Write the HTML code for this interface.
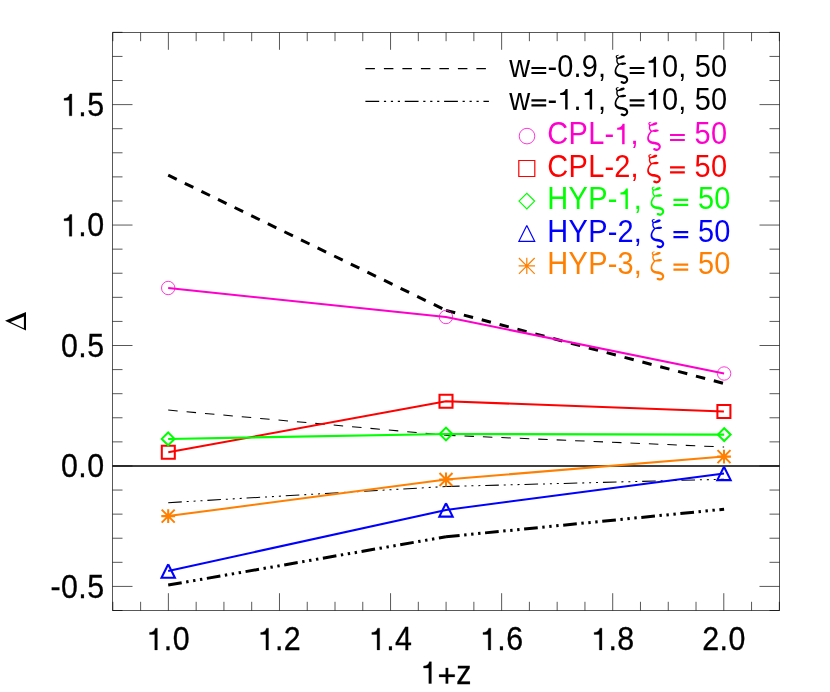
<!DOCTYPE html>
<html><head><meta charset="utf-8"><title>plot</title>
<style>
html,body{margin:0;padding:0;background:#fff;}
body{width:830px;height:692px;overflow:hidden;}
svg{display:block;will-change:transform;}
text{font-family:"Liberation Sans",sans-serif;}
</style></head><body>
<svg width="830" height="692" viewBox="0 0 830 692">
<rect width="830" height="692" fill="#fff"/>
<defs><path id="xi" d="M3.88 -22.45 3.79 -22.44 3.66 -22.43 3.50 -22.42 3.32 -22.40 3.12 -22.37 2.92 -22.34 2.72 -22.29 2.54 -22.22 2.38 -22.15 2.22 -22.08 2.05 -21.99 1.89 -21.89 1.73 -21.76 1.57 -21.62 1.43 -21.44 1.32 -21.22 1.26 -21.00 1.23 -20.78 1.22 -20.56 1.25 -20.34 1.29 -20.12 1.36 -19.90 1.44 -19.69 1.56 -19.47 1.72 -19.26 1.91 -19.06 2.10 -18.88 2.30 -18.71 2.50 -18.56 2.66 -18.44 2.80 -18.34 2.89 -18.26 3.20 -18.13 3.54 -18.17 3.81 -18.37 3.95 -18.68 3.91 -19.02 3.71 -19.30 3.59 -19.38 3.45 -19.49 3.28 -19.61 3.10 -19.74 2.94 -19.87 2.79 -19.99 2.68 -20.10 2.61 -20.17 2.56 -20.25 2.52 -20.35 2.48 -20.45 2.45 -20.55 2.43 -20.65 2.42 -20.74 2.41 -20.81 2.41 -20.84 2.41 -20.87 2.43 -20.92 2.48 -20.98 2.54 -21.06 2.63 -21.14 2.74 -21.23 2.85 -21.31 2.95 -21.38 3.05 -21.45 3.18 -21.51 3.33 -21.57 3.49 -21.63 3.65 -21.69 3.80 -21.74 3.93 -21.78 4.03 -21.81 4.18 -21.89 4.27 -22.04 4.28 -22.21 4.20 -22.36 4.05 -22.45ZM3.34 -18.42 3.50 -18.43 3.72 -18.45 3.98 -18.48 4.27 -18.51 4.59 -18.54 4.91 -18.58 5.23 -18.62 5.54 -18.67 5.85 -18.73 6.16 -18.79 6.48 -18.85 6.79 -18.92 7.09 -18.99 7.38 -19.05 7.64 -19.12 7.86 -19.19 8.08 -19.26 8.30 -19.35 8.51 -19.44 8.72 -19.54 8.91 -19.64 9.09 -19.73 9.25 -19.81 9.37 -19.87 9.86 -20.16 10.14 -20.66 10.12 -21.23 9.83 -21.71 9.33 -21.99 8.76 -21.98 8.64 -21.97 8.48 -21.95 8.27 -21.94 8.04 -21.92 7.79 -21.88 7.52 -21.83 7.25 -21.76 6.97 -21.67 6.70 -21.55 6.43 -21.41 6.16 -21.25 5.89 -21.08 5.63 -20.90 5.38 -20.73 5.13 -20.57 4.90 -20.43 4.66 -20.28 4.39 -20.13 4.12 -19.97 3.86 -19.82 3.60 -19.68 3.38 -19.55 3.18 -19.44 3.04 -19.36ZM2.04 -19.28 2.01 -19.08 1.97 -18.82 1.91 -18.49 1.85 -18.12 1.79 -17.73 1.75 -17.32 1.72 -16.92 1.73 -16.54 1.77 -16.19 1.82 -15.85 1.90 -15.53 1.99 -15.21 2.09 -14.90 2.21 -14.60 2.34 -14.32 2.48 -14.04 2.65 -13.76 2.86 -13.49 3.07 -13.24 3.29 -13.02 3.49 -12.82 3.67 -12.65 3.81 -12.52 3.90 -12.42 4.21 -12.24 4.56 -12.23 4.87 -12.40 5.06 -12.71 5.06 -13.06 4.89 -13.37 4.77 -13.49 4.62 -13.64 4.45 -13.81 4.27 -13.98 4.09 -14.17 3.92 -14.36 3.78 -14.54 3.67 -14.72 3.57 -14.92 3.47 -15.14 3.38 -15.37 3.30 -15.62 3.23 -15.87 3.17 -16.12 3.13 -16.37 3.10 -16.62 3.10 -16.88 3.13 -17.19 3.17 -17.54 3.23 -17.89 3.30 -18.24 3.36 -18.56 3.42 -18.84 3.45 -19.05 3.41 -19.42 3.20 -19.72 2.86 -19.87 2.49 -19.83 2.19 -19.61ZM4.20 -12.52 4.40 -12.51 4.66 -12.50 4.97 -12.49 5.32 -12.48 5.68 -12.47 6.04 -12.45 6.40 -12.44 6.72 -12.44 7.03 -12.43 7.36 -12.42 7.68 -12.42 8.01 -12.41 8.32 -12.41 8.63 -12.42 8.92 -12.44 9.18 -12.46 9.42 -12.50 9.66 -12.56 9.89 -12.63 10.11 -12.71 10.31 -12.78 10.49 -12.85 10.64 -12.91 10.77 -12.95 11.17 -13.09 11.45 -13.41 11.54 -13.83 11.41 -14.23 11.09 -14.51 10.67 -14.60 10.55 -14.63 10.39 -14.67 10.20 -14.72 9.99 -14.77 9.75 -14.82 9.49 -14.85 9.23 -14.87 8.96 -14.87 8.68 -14.85 8.39 -14.80 8.08 -14.75 7.76 -14.68 7.43 -14.60 7.11 -14.52 6.78 -14.43 6.47 -14.34 6.14 -14.25 5.79 -14.13 5.44 -14.01 5.09 -13.89 4.76 -13.76 4.47 -13.65 4.23 -13.56 4.04 -13.50ZM3.87 -13.45 3.70 -13.26 3.45 -13.00 3.15 -12.68 2.82 -12.32 2.47 -11.92 2.13 -11.51 1.81 -11.07 1.53 -10.64 1.29 -10.21 1.07 -9.78 0.86 -9.32 0.67 -8.85 0.50 -8.37 0.36 -7.89 0.24 -7.40 0.17 -6.93 0.12 -6.46 0.10 -5.99 0.12 -5.51 0.16 -5.04 0.24 -4.56 0.37 -4.09 0.55 -3.63 0.78 -3.19 1.07 -2.77 1.40 -2.38 1.77 -2.02 2.16 -1.69 2.58 -1.39 3.02 -1.11 3.47 -0.86 3.96 -0.63 4.50 -0.44 5.06 -0.30 5.62 -0.19 6.16 -0.12 6.67 -0.05 7.14 0.01 7.56 0.07 7.95 0.15 8.34 0.25 8.76 0.35 9.15 0.45 9.51 0.54 9.84 0.64 10.12 0.74 10.36 0.84 10.55 0.94 10.73 1.07 10.91 1.22 11.08 1.38 11.23 1.57 11.37 1.76 11.48 1.95 11.56 2.13 11.61 2.28 11.64 2.42 11.64 2.58 11.62 2.77 11.58 2.97 11.51 3.17 11.43 3.36 11.33 3.54 11.22 3.68 11.08 3.82 10.91 3.96 10.70 4.10 10.47 4.23 10.24 4.33 10.01 4.41 9.81 4.46 9.67 4.48 9.54 4.47 9.33 4.43 9.05 4.36 8.74 4.25 8.43 4.13 8.12 4.01 7.84 3.89 7.61 3.82 7.01 3.79 6.48 4.06 6.16 4.56 6.12 5.16 6.40 5.69 6.90 6.01 7.07 6.06 7.31 6.15 7.64 6.27 8.02 6.40 8.44 6.52 8.90 6.63 9.39 6.69 9.90 6.67 10.36 6.57 10.77 6.42 11.16 6.23 11.53 6.02 11.87 5.77 12.19 5.51 12.48 5.24 12.74 4.94 12.98 4.62 13.18 4.29 13.35 3.93 13.49 3.56 13.60 3.18 13.67 2.78 13.70 2.36 13.67 1.95 13.60 1.54 13.48 1.15 13.33 0.76 13.14 0.37 12.91 0.00 12.64 -0.36 12.33 -0.70 11.98 -1.01 11.59 -1.29 11.17 -1.52 10.74 -1.72 10.31 -1.89 9.87 -2.04 9.43 -2.17 9.00 -2.30 8.54 -2.42 8.02 -2.53 7.48 -2.60 6.95 -2.65 6.45 -2.70 5.97 -2.74 5.53 -2.79 5.16 -2.86 4.83 -2.95 4.50 -3.07 4.14 -3.23 3.80 -3.39 3.48 -3.57 3.19 -3.76 2.92 -3.96 2.70 -4.16 2.51 -4.35 2.35 -4.57 2.21 -4.82 2.08 -5.10 1.98 -5.40 1.90 -5.73 1.84 -6.07 1.81 -6.43 1.81 -6.77 1.84 -7.12 1.91 -7.50 2.02 -7.89 2.15 -8.30 2.31 -8.71 2.49 -9.11 2.68 -9.51 2.86 -9.87 3.07 -10.23 3.33 -10.61 3.62 -10.99 3.92 -11.37 4.22 -11.73 4.50 -12.06 4.74 -12.34 4.92 -12.56 5.07 -12.88 5.04 -13.24 4.84 -13.53 4.52 -13.68 4.16 -13.65Z"/><path id="g1" vector-effect="non-scaling-stroke" d="M.355 0H.271V-.501H.101V-.566C.2-.567.262-.61.289-.706H.355Z"/><path id="geq" vector-effect="non-scaling-stroke" d="M.039-.109H.545V-.185H.039ZM.039-.281H.545V-.357H.039Z"/><path id="gplus" vector-effect="non-scaling-stroke" d="M.039-.214H.545V-.291H.039ZM.253 0H.331V-.505H.253Z"/></defs>
<g stroke="#000" stroke-width="0.66" fill="none" stroke-linecap="butt">
<path d="M112.5 610.5H779.5V32.5H112.5Z"/>
<path d="M112.85 610.5v-8.7 M112.85 32.5v8.7 M140.62 610.5v-8.7 M140.62 32.5v8.7 M168.39 610.5v-17.3 M168.39 32.5v17.3 M196.16 610.5v-8.7 M196.16 32.5v8.7 M223.93 610.5v-8.7 M223.93 32.5v8.7 M251.7 610.5v-8.7 M251.7 32.5v8.7 M279.47 610.5v-17.3 M279.47 32.5v17.3 M307.24 610.5v-8.7 M307.24 32.5v8.7 M335.01 610.5v-8.7 M335.01 32.5v8.7 M362.78 610.5v-8.7 M362.78 32.5v8.7 M390.55 610.5v-17.3 M390.55 32.5v17.3 M418.32 610.5v-8.7 M418.32 32.5v8.7 M446.09 610.5v-8.7 M446.09 32.5v8.7 M473.86 610.5v-8.7 M473.86 32.5v8.7 M501.63 610.5v-17.3 M501.63 32.5v17.3 M529.4 610.5v-8.7 M529.4 32.5v8.7 M557.17 610.5v-8.7 M557.17 32.5v8.7 M584.94 610.5v-8.7 M584.94 32.5v8.7 M612.71 610.5v-17.3 M612.71 32.5v17.3 M640.48 610.5v-8.7 M640.48 32.5v8.7 M668.25 610.5v-8.7 M668.25 32.5v8.7 M696.02 610.5v-8.7 M696.02 32.5v8.7 M723.79 610.5v-17.3 M723.79 32.5v17.3 M751.56 610.5v-8.7 M751.56 32.5v8.7 M779.33 610.5v-8.7 M779.33 32.5v8.7 M112.5 610.5h10.0 M779.5 610.5h-10.0 M112.5 586.41h20.0 M779.5 586.41h-20.0 M112.5 562.32h10.0 M779.5 562.32h-10.0 M112.5 538.23h10.0 M779.5 538.23h-10.0 M112.5 514.14h10.0 M779.5 514.14h-10.0 M112.5 490.05h10.0 M779.5 490.05h-10.0 M112.5 465.96h20.0 M779.5 465.96h-20.0 M112.5 441.87h10.0 M779.5 441.87h-10.0 M112.5 417.78h10.0 M779.5 417.78h-10.0 M112.5 393.69h10.0 M779.5 393.69h-10.0 M112.5 369.6h10.0 M779.5 369.6h-10.0 M112.5 345.51h20.0 M779.5 345.51h-20.0 M112.5 321.42h10.0 M779.5 321.42h-10.0 M112.5 297.33h10.0 M779.5 297.33h-10.0 M112.5 273.24h10.0 M779.5 273.24h-10.0 M112.5 249.15h10.0 M779.5 249.15h-10.0 M112.5 225.06h20.0 M779.5 225.06h-20.0 M112.5 200.97h10.0 M779.5 200.97h-10.0 M112.5 176.88h10.0 M779.5 176.88h-10.0 M112.5 152.79h10.0 M779.5 152.79h-10.0 M112.5 128.7h10.0 M779.5 128.7h-10.0 M112.5 104.61h20.0 M779.5 104.61h-20.0 M112.5 80.52h10.0 M779.5 80.52h-10.0 M112.5 56.43h10.0 M779.5 56.43h-10.0 M112.5 32.34h10.0 M779.5 32.34h-10.0 "/>
</g>
<g fill="#000" stroke="#000" stroke-width="0.3">
<text transform="translate(146.25 649.90) rotate(0.02) scale(0.9370 1)" font-size="32.45" x="18.78 28.24" y="0">.0</text><use href="#g1" transform="translate(146.42 649.90) scale(30.800)"/>
<text transform="translate(257.40 649.90) rotate(0.02) scale(0.9370 1)" font-size="32.45" x="18.78 28.24" y="0">.2</text><use href="#g1" transform="translate(257.57 649.90) scale(30.800)"/>
<text transform="translate(368.55 649.90) rotate(0.02) scale(0.9370 1)" font-size="32.45" x="18.78 28.24" y="0">.4</text><use href="#g1" transform="translate(368.72 649.90) scale(30.800)"/>
<text transform="translate(479.70 649.90) rotate(0.02) scale(0.9370 1)" font-size="32.45" x="18.78 28.24" y="0">.6</text><use href="#g1" transform="translate(479.87 649.90) scale(30.800)"/>
<text transform="translate(590.85 649.90) rotate(0.02) scale(0.9370 1)" font-size="32.45" x="18.78 28.24" y="0">.8</text><use href="#g1" transform="translate(591.02 649.90) scale(30.800)"/>
<text transform="translate(702.00 649.90) rotate(0.02) scale(0.9370 1)" font-size="32.45" x="0.30 18.78 28.24" y="0">2.0</text>
<text transform="translate(50.30 597.56) rotate(0.02) scale(0.9370 1)" font-size="32.45" x="0.18 11.45 29.94 39.40" y="0">-0.5</text>
<text transform="translate(60.75 477.11) rotate(0.02) scale(0.9370 1)" font-size="32.45" x="0.30 18.78 28.24" y="0">0.0</text>
<text transform="translate(60.75 356.66) rotate(0.02) scale(0.9370 1)" font-size="32.45" x="0.30 18.78 28.24" y="0">0.5</text>
<text transform="translate(60.75 236.21) rotate(0.02) scale(0.9370 1)" font-size="32.45" x="18.78 28.24" y="0">.0</text><use href="#g1" transform="translate(60.92 236.21) scale(30.800)"/>
<text transform="translate(60.75 115.76) rotate(0.02) scale(0.9370 1)" font-size="32.45" x="18.78 28.24" y="0">.5</text><use href="#g1" transform="translate(60.92 115.76) scale(30.800)"/>
<text transform="translate(420.30 683.50) rotate(0.02) scale(0.9370 1)" font-size="32.45" x="38.47" y="0">z</text><use href="#g1" transform="translate(420.47 683.50) scale(30.800)"/><use href="#gplus" transform="translate(437.94 683.50) scale(30.800)"/>
<path fill-rule="evenodd" stroke="none" d="M5 320.8L26 312.1V330.6ZM10.6 321.9L23.9 328.2V316.4Z"/>
</g>
<line x1="112.5" y1="466" x2="779.5" y2="466" stroke="#000" stroke-width="1.45"/>
<line x1="168.2" y1="410.1" x2="446.0" y2="435.2" stroke="#000" stroke-width="1.05" stroke-dasharray="9.5 8.96"/>
<line x1="446.0" y1="435.2" x2="724.1" y2="447.0" stroke="#000" stroke-width="1.05" stroke-dasharray="9.5 8.96"/>
<line x1="168.2" y1="502.65" x2="446.0" y2="486.5" stroke="#000" stroke-width="1.05" stroke-dasharray="13.6 4.9 2.0 4.92 2.0 4.92 2.0 4.91"/>
<line x1="446.0" y1="486.5" x2="724.1" y2="479.2" stroke="#000" stroke-width="1.05" stroke-dasharray="13.6 4.9 2.0 4.92 2.0 4.92 2.0 4.91"/>
<line x1="168.2" y1="175.2" x2="446.0" y2="310.4" stroke="#000" stroke-width="3.0" stroke-dasharray="9.5 8.96"/>
<line x1="446.0" y1="310.4" x2="724.1" y2="383.5" stroke="#000" stroke-width="3.0" stroke-dasharray="9.5 8.96"/>
<line x1="168.2" y1="585.1" x2="446.0" y2="536.75" stroke="#000" stroke-width="3.0" stroke-dasharray="13.7 4.55 2.4 4.6 2.4 4.6 2.4 4.6"/>
<line x1="446.0" y1="536.75" x2="724.1" y2="509.2" stroke="#000" stroke-width="3.0" stroke-dasharray="13.7 4.55 2.4 4.6 2.4 4.6 2.4 4.6"/>
<polyline points="168.2,288.0 445.95,317.0 724.1,373.5" fill="none" stroke="#ff00cc" stroke-width="2.05" stroke-linejoin="miter"/>
<circle cx="168.2" cy="288.0" r="6.7" fill="none" stroke="#ff00cc" stroke-width="0.78"/>
<circle cx="445.95" cy="317.0" r="6.7" fill="none" stroke="#ff00cc" stroke-width="0.78"/>
<circle cx="724.1" cy="373.5" r="6.7" fill="none" stroke="#ff00cc" stroke-width="0.78"/>
<polyline points="168.3,452.3 446.0,401.3 723.9,411.5" fill="none" stroke="#ff0000" stroke-width="2.05" stroke-linejoin="miter"/>
<path d="M161.8 445.8H174.8V458.8H161.8Z" fill="none" stroke="#ff0000" stroke-width="2.05"/>
<path d="M439.5 394.8H452.5V407.8H439.5Z" fill="none" stroke="#ff0000" stroke-width="2.05"/>
<path d="M717.4 405.0H730.4V418.0H717.4Z" fill="none" stroke="#ff0000" stroke-width="2.05"/>
<polyline points="168.15,438.9 446.0,434.0 724.2,434.6" fill="none" stroke="#00ff00" stroke-width="2.05" stroke-linejoin="miter"/>
<path d="M161.75 438.9L168.15 432.5L174.55 438.9L168.15 445.29999999999995Z" fill="none" stroke="#00ff00" stroke-width="2.05"/>
<path d="M439.6 434.0L446.0 427.6L452.4 434.0L446.0 440.4Z" fill="none" stroke="#00ff00" stroke-width="2.05"/>
<path d="M717.8000000000001 434.6L724.2 428.20000000000005L730.6 434.6L724.2 441.0Z" fill="none" stroke="#00ff00" stroke-width="2.05"/>
<polyline points="168.2,571.0 446.0,509.9 724.0,473.4" fill="none" stroke="#0000ff" stroke-width="2.05" stroke-linejoin="miter"/>
<path d="M168.2 564.3L161.5 577.7H174.89999999999998L168.2 564.3" fill="none" stroke="#0000ff" stroke-width="2.05" stroke-linejoin="miter"/>
<path d="M446.0 503.2L439.3 516.6H452.7L446.0 503.2" fill="none" stroke="#0000ff" stroke-width="2.05" stroke-linejoin="miter"/>
<path d="M724.0 466.7L717.3 480.09999999999997H730.7L724.0 466.7" fill="none" stroke="#0000ff" stroke-width="2.05" stroke-linejoin="miter"/>
<polyline points="168.2,516.1 446.0,479.5 724.0,456.6" fill="none" stroke="#ff7f00" stroke-width="2.05" stroke-linejoin="miter"/>
<path d="M161.29999999999998 516.1H175.1M168.2 509.20000000000005V523.0M161.7 509.6L174.7 522.6M161.7 522.6L174.7 509.6" fill="none" stroke="#ff7f00" stroke-width="2.05"/>
<path d="M439.1 479.5H452.9M446.0 472.6V486.4M439.5 473.0L452.5 486.0M439.5 486.0L452.5 473.0" fill="none" stroke="#ff7f00" stroke-width="2.05"/>
<path d="M717.1 456.6H730.9M724.0 449.70000000000005V463.5M717.5 450.1L730.5 463.1M717.5 463.1L730.5 450.1" fill="none" stroke="#ff7f00" stroke-width="2.05"/>
<line x1="365.4" y1="68.6" x2="488.9" y2="68.6" stroke="#000" stroke-width="1.25" stroke-dasharray="9.5 9.0"/>
<line x1="365.4" y1="101.4" x2="488.9" y2="101.4" stroke="#000" stroke-width="1.25" stroke-dasharray="13.8 4.7 2.2 4.75 2.2 4.75 2.2 4.75"/>
<g fill="#000">
<text transform="translate(509.00 77.30) rotate(0.02) scale(0.9500 1)" font-size="30.50" x="0.16 40.49 50.85 67.99 76.66 93.80" y="0">w-0.9,</text><use href="#geq" transform="translate(530.29 77.30) scale(29.200)"/>
<use href="#xi" transform="translate(614.5 77.3)"/>
<text transform="translate(628.45 77.30) rotate(0.02) scale(0.9500 1)" font-size="30.50" x="35.40 52.55 69.82 87.02" y="0">0,50</text><use href="#geq" transform="translate(628.51 77.30) scale(29.200)"/><use href="#g1" transform="translate(645.68 77.30) scale(29.200)"/>
<text transform="translate(509.00 109.60) rotate(0.02) scale(0.9500 1)" font-size="30.50" x="0.16 40.49 67.99 93.80" y="0">w-.,</text><use href="#geq" transform="translate(530.29 109.60) scale(29.200)"/><use href="#g1" transform="translate(557.24 109.60) scale(29.200)"/><use href="#g1" transform="translate(581.76 109.60) scale(29.200)"/>
<use href="#xi" transform="translate(614.5 109.6)"/>
<text transform="translate(628.45 109.60) rotate(0.02) scale(0.9500 1)" font-size="30.50" x="35.40 52.55 69.82 87.02" y="0">0,50</text><use href="#geq" transform="translate(628.51 109.60) scale(29.200)"/><use href="#g1" transform="translate(645.68 109.60) scale(29.200)"/>
</g>
<g fill="#ff00cc">
<text transform="translate(547.20 144.30) rotate(0.02) scale(0.9500 1)" font-size="30.50" x="0.16 22.49 43.11 60.27 87.77" y="0">CPL-,</text><use href="#g1" transform="translate(614.23 144.30) scale(29.200)"/>
<use href="#xi" transform="translate(647.1 144.3)"/>
<use href="#geq" transform="translate(668.91 144.30) scale(29.200)"/>
<text transform="translate(694.50 144.30) rotate(0.02) scale(0.9500 1)" font-size="30.50" x="0.12 17.33" y="0">50</text>
</g>
<g fill="#ff0000">
<text transform="translate(547.20 176.70) rotate(0.02) scale(0.9500 1)" font-size="30.50" x="0.16 22.49 43.11 60.27 70.62 87.77" y="0">CPL-2,</text>
<use href="#xi" transform="translate(647.1 176.7)"/>
<use href="#geq" transform="translate(668.91 176.70) scale(29.200)"/>
<text transform="translate(694.50 176.70) rotate(0.02) scale(0.9500 1)" font-size="30.50" x="0.12 17.33" y="0">50</text>
</g>
<g fill="#00ff00">
<text transform="translate(547.20 209.10) rotate(0.02) scale(0.9500 1)" font-size="30.50" x="0.16 22.49 43.14 63.70 91.20" y="0">HYP-,</text><use href="#g1" transform="translate(617.49 209.10) scale(29.200)"/>
<use href="#xi" transform="translate(650.5 209.1)"/>
<use href="#geq" transform="translate(672.31 209.10) scale(29.200)"/>
<text transform="translate(697.90 209.10) rotate(0.02) scale(0.9500 1)" font-size="30.50" x="0.12 17.33" y="0">50</text>
</g>
<g fill="#0000ff">
<text transform="translate(547.20 241.50) rotate(0.02) scale(0.9500 1)" font-size="30.50" x="0.16 22.49 43.14 63.70 74.06 91.20" y="0">HYP-2,</text>
<use href="#xi" transform="translate(650.5 241.5)"/>
<use href="#geq" transform="translate(672.31 241.50) scale(29.200)"/>
<text transform="translate(697.90 241.50) rotate(0.02) scale(0.9500 1)" font-size="30.50" x="0.12 17.33" y="0">50</text>
</g>
<g fill="#ff7f00">
<text transform="translate(547.20 273.90) rotate(0.02) scale(0.9500 1)" font-size="30.50" x="0.16 22.49 43.14 63.70 74.06 91.20" y="0">HYP-3,</text>
<use href="#xi" transform="translate(650.5 273.9)"/>
<use href="#geq" transform="translate(672.31 273.90) scale(29.200)"/>
<text transform="translate(697.90 273.90) rotate(0.02) scale(0.9500 1)" font-size="30.50" x="0.12 17.33" y="0">50</text>
</g>
<circle cx="527.0" cy="136.1" r="7.8" fill="none" stroke="#ff00cc" stroke-width="0.78"/>
<path d="M518.8 160.5H534.8V176.5H518.8Z" fill="none" stroke="#ff0000" stroke-width="1.2"/>
<path d="M519.0 201.1L526.8 193.29999999999998L534.5999999999999 201.1L526.8 208.9Z" fill="none" stroke="#00ff00" stroke-width="1.2"/>
<path d="M526.8 225.5L518.9 241.3H534.6999999999999L526.8 225.5" fill="none" stroke="#0000ff" stroke-width="1.2" stroke-linejoin="miter"/>
<path d="M518.5999999999999 265.9H535.0M526.8 257.7V274.09999999999997M518.9 258.0L534.6999999999999 273.79999999999995M518.9 273.79999999999995L534.6999999999999 258.0" fill="none" stroke="#ff7f00" stroke-width="1.2"/>
</svg>
</body></html>
